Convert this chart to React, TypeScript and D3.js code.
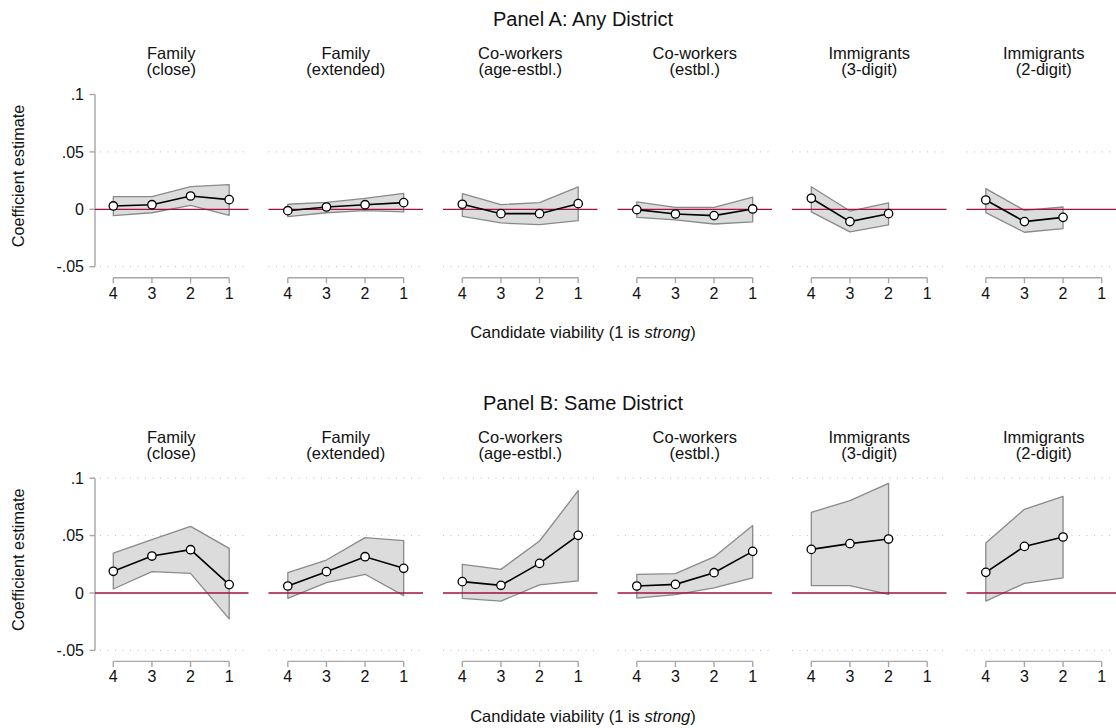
import React from "react";
import * as d3 from "d3";

// ---------- data ----------
const viability = [4, 3, 2, 1];
const xTickLabels = ["4", "3", "2", "1"];
const yTicks = [-0.05, 0, 0.05, 0.1];
const yTickLabels = ["-.05", "0", ".05", ".1"];
const panelTitles = ["Panel A: Any District", "Panel B: Same District"];
const facetTitles = [
  ["Family", "(close)"],
  ["Family", "(extended)"],
  ["Co-workers", "(age-estbl.)"],
  ["Co-workers", "(estbl.)"],
  ["Immigrants", "(3-digit)"],
  ["Immigrants", "(2-digit)"],
];
const gridA = [-0.05, 0.05];
const gridB = [-0.05, 0.05, 0.1];

// Panel A: Any District
const anyEst = [
  [0.0029, 0.004, 0.0116, 0.0084],
  [-0.0012, 0.002, 0.004, 0.0058],
  [0.0044, -0.0038, -0.0038, 0.0049],
  [-0.0003, -0.0041, -0.0055, 0.0003],
  [0.0096, -0.0107, -0.0038, null],
  [0.0081, -0.0107, -0.007, null],
];
const anyLo = [
  [-0.0055, -0.003, 0.0035, -0.0052],
  [-0.0064, -0.003, -0.0012, -0.0023],
  [-0.0061, -0.0119, -0.0134, -0.0099],
  [-0.007, -0.0093, -0.0128, -0.011],
  [-0.0023, -0.0197, -0.0136, null],
  [-0.0029, -0.02, -0.0168, null],
];
const anyHi = [
  [0.011, 0.011, 0.0197, 0.0215],
  [0.0044, 0.006, 0.0096, 0.0139],
  [0.0136, 0.0041, 0.0058, 0.0195],
  [0.0064, 0.0017, 0.0017, 0.0105],
  [0.0197, -0.0015, 0.0055, null],
  [0.018, -0.0009, 0.002, null],
];

// Panel B: Same District
const sameEst = [
  [0.0189, 0.0322, 0.0377, 0.0073],
  [0.0061, 0.0186, 0.0316, 0.0215],
  [0.0099, 0.0067, 0.0258, 0.0502],
  [0.0061, 0.0075, 0.0177, 0.0363],
  [0.038, 0.043, 0.047, null],
  [0.018, 0.0406, 0.0488, null],
];
const sameLo = [
  [0.0035, 0.0186, 0.0171, -0.0226],
  [-0.0046, 0.009, 0.0163, -0.0023],
  [-0.0046, -0.007, 0.007, 0.0105],
  [-0.0044, -0.0015, 0.0044, 0.0131],
  [0.0064, 0.0064, -0.0012, null],
  [-0.007, 0.0084, 0.0131, null],
];
const sameHi = [
  [0.0348, 0.0465, 0.058, 0.0389],
  [0.0177, 0.0287, 0.0482, 0.0456],
  [0.025, 0.0206, 0.0453, 0.0891],
  [0.0163, 0.0168, 0.0314, 0.0587],
  [0.0703, 0.0804, 0.0955, null],
  [0.0436, 0.0729, 0.0842, null],
];

// ---------- layout ----------
const W = 1116;
const H = 728;
const FONT = "'Liberation Sans', Arial, Helvetica, sans-serif";
const facetLeft0 = 94;
const facetStep = 174.5;
const facetW = 154.5;
const axisX = 95;
const panelOffset = 383.7;
const titleCX = 583;

const panels = [
  { title: panelTitles[0], est: anyEst, lo: anyLo, hi: anyHi, grid: gridA, dy: 0 },
  { title: panelTitles[1], est: sameEst, lo: sameLo, hi: sameHi, grid: gridB, dy: panelOffset },
];

function Panel({ p }: { p: any }) {
  const y = d3.scaleLinear().domain([-0.05, 0.1]).range([266.7 + p.dy, 94.5 + p.dy]);
  const xAxisY = 277.7 + p.dy;
  return (
    <g>
      <text x={titleCX} y={26 + p.dy} textAnchor="middle" fontSize={20} fill="#111">
        {p.title}
      </text>
      <text
        transform={`translate(24,${176 + p.dy}) rotate(-90)`}
        textAnchor="middle"
        fontSize={16.3}
        fill="#111"
      >
        Coefficient estimate
      </text>
      <text x={titleCX} y={338 + p.dy} textAnchor="middle" fontSize={16.5} fill="#111">
        Candidate viability (1 is <tspan fontStyle="italic">strong</tspan>)
      </text>
      {/* y axis */}
      <line x1={axisX} x2={axisX} y1={y(0.1)} y2={y(-0.05)} stroke="#a6a6a6" strokeWidth={1.4} />
      {yTicks.map((t, i) => (
        <g key={i}>
          <line x1={axisX - 5.5} x2={axisX} y1={y(t)} y2={y(t)} stroke="#a6a6a6" strokeWidth={1.4} />
          <text x={84} y={y(t) + 5.6} textAnchor="end" fontSize={16} fill="#111">
            {yTickLabels[i]}
          </text>
        </g>
      ))}
      {facetTitles.map((ft, f) => {
        const left = facetLeft0 + f * facetStep;
        const x = d3.scaleLinear().domain([4.5, 0.5]).range([left, left + facetW]);
        const est = p.est[f];
        const lo = p.lo[f];
        const hi = p.hi[f];
        const idx = viability.map((_, i) => i).filter((i) => est[i] !== null);
        const area = d3
          .area<number>()
          .x((i) => x(viability[i]))
          .y0((i) => y(lo[i]))
          .y1((i) => y(hi[i]));
        const line = d3
          .line<number>()
          .x((i) => x(viability[i]))
          .y((i) => y(est[i]));
        const cx = left + facetW / 2;
        const gx0 = f === 0 ? left + 6 : left;
        return (
          <g key={f}>
            <text x={cx} y={59.3 + p.dy} textAnchor="middle" fontSize={16.5} fill="#111">
              {ft[0]}
            </text>
            <text x={cx} y={75.3 + p.dy} textAnchor="middle" fontSize={16.5} fill="#111">
              {ft[1]}
            </text>
            {p.grid.map((g: number, gi: number) => (
              <line
                key={gi}
                x1={gx0}
                x2={left + facetW}
                y1={y(g)}
                y2={y(g)}
                stroke="#bdbdbd"
                strokeWidth={1}
                strokeDasharray="1,6.5"
              />
            ))}
            <path d={area(idx) || ""} fill="#dcdcdc" stroke="#8a8a8a" strokeWidth={1.3} strokeLinejoin="round" />
            <line
              x1={f === 0 ? axisX : left}
              x2={left + facetW}
              y1={y(0)}
              y2={y(0)}
              stroke="#a3123f"
              strokeWidth={1.3}
            />
            <path d={line(idx) || ""} fill="none" stroke="#000" strokeWidth={1.6} />
            {idx.map((i) => (
              <circle
                key={i}
                cx={x(viability[i])}
                cy={y(est[i])}
                r={4.2}
                fill="#fff"
                stroke="#000"
                strokeWidth={1.3}
              />
            ))}
            {/* x axis */}
            <line x1={x(4)} x2={x(1)} y1={xAxisY} y2={xAxisY} stroke="#a6a6a6" strokeWidth={1.4} />
            {viability.map((v, i) => (
              <g key={i}>
                <line x1={x(v)} x2={x(v)} y1={xAxisY} y2={xAxisY + 5.6} stroke="#a6a6a6" strokeWidth={1.4} />
                <text x={x(v)} y={298.7 + p.dy} textAnchor="middle" fontSize={16} fill="#111">
                  {xTickLabels[i]}
                </text>
              </g>
            ))}
          </g>
        );
      })}
    </g>
  );
}

export default function App() {
  return (
    <svg
      width={W}
      height={H}
      viewBox={`0 0 ${W} ${H}`}
      style={{ position: "absolute", left: 0, top: 0, background: "#fff", fontFamily: FONT }}
    >
      <rect x={0} y={0} width={W} height={H} fill="#fff" />
      {panels.map((p, i) => (
        <Panel key={i} p={p} />
      ))}
    </svg>
  );
}
